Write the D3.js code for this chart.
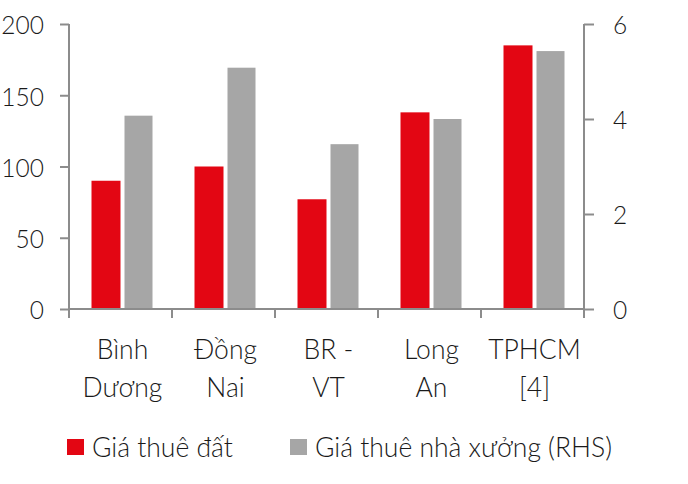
<!DOCTYPE html>
<html><head><meta charset="utf-8">
<script src="https://cdn.jsdelivr.net/npm/d3@7"></script>
<style>
body{margin:0;background:#fff;}
text{font-family:Lato,"Open Sans",sans-serif;font-weight:300;fill:#1a1a1a;}
</style></head>
<body><svg id="c" width="688" height="484"></svg>
<script>
const categories = [["Bình","Dương"],["Đồng","Nai"],["BR -","VT"],["Long","An"],["TPHCM","[4]"]];
const landRent = [90, 100, 77, 138, 185];
const factoryRent = [4.07, 5.08, 3.47, 4.0, 5.43];
const leftTicks = [0, 50, 100, 150, 200];
const rightTicks = [0, 2, 4, 6];
const seriesNames = ["Giá thuê đất", "Giá thuê nhà xưởng (RHS)"];
const colors = ["#e30613", "#a6a6a6"];

const svg = d3.select("#c");
const L = 69, R = 584, T = 24, B = 309;
const FS = 26.5, TFS = 24.5;
const idx = categories.map((d,i)=>i);
const x = d3.scaleBand().domain(idx).range([L, R]).paddingInner(0).paddingOuter(0);
const yL = d3.scaleLinear().domain([0,200]).range([B, T]);
const yR = d3.scaleLinear().domain([0,6]).range([B, T]);
const axisColor = "#8c8c8c";
const bw = 29, gap = 4;

// bars
const g = svg.append("g");
idx.forEach(i=>{
  const c = x(i) + x.bandwidth()/2 + 2;
  g.append("rect").attr("x", c - gap/2 - bw).attr("width", bw)
    .attr("y", yL(landRent[i])).attr("height", B - yL(landRent[i])).attr("fill", colors[0]);
  g.append("rect").attr("x", c + gap/2).attr("width", bw - 1)
    .attr("y", yR(factoryRent[i])).attr("height", B - yR(factoryRent[i])).attr("fill", colors[1]);
});

// left axis
const la = svg.append("g").attr("transform", `translate(${L},0)`)
  .call(d3.axisLeft(yL).tickValues(leftTicks).tickSize(9).tickPadding(16).tickFormat(d3.format("d")));
// right axis
const ra = svg.append("g").attr("transform", `translate(${R},0)`)
  .call(d3.axisRight(yR).tickValues(rightTicks).tickSize(10).tickPadding(19).tickFormat(d3.format("d")));
[la, ra].forEach(a=>{
  a.select(".domain").attr("stroke", axisColor).attr("stroke-width", 2).attr("d", `M0,${T}V${B}`);
  a.selectAll(".tick line").attr("stroke", axisColor).attr("stroke-width", 2);
  a.selectAll(".tick text").attr("font-size", TFS).attr("fill", "#1a1a1a").attr("y", 2)
    .style("font-family", "Lato, sans-serif").style("font-weight", 300);
});

// x axis
const xa = svg.append("g");
xa.append("line").attr("x1", L).attr("x2", R).attr("y1", B).attr("y2", B)
  .attr("stroke", axisColor).attr("stroke-width", 2);
const bounds = idx.map(i=>x(i)).concat([R]);
xa.selectAll("line.t").data(bounds).join("line").attr("class","t")
  .attr("x1", d=>d).attr("x2", d=>d).attr("y1", B).attr("y2", B+9)
  .attr("stroke", axisColor).attr("stroke-width", 2);

// category labels
idx.forEach(i=>{
  const t = svg.append("text").attr("text-anchor","middle").attr("font-size", FS)
    .attr("x", x(i) + x.bandwidth()/2 + 2);
  categories[i].forEach((line, k)=>{
    t.append("tspan").attr("x", x(i) + x.bandwidth()/2 + 2).attr("y", 359 + k*37.5).text(line);
  });
});

// legend
const leg = svg.append("g");
const legX = [67, 290];
seriesNames.forEach((n,i)=>{
  leg.append("rect").attr("x", legX[i]).attr("y", 439).attr("width", 17).attr("height", 16).attr("fill", colors[i]);
  leg.append("text").attr("x", legX[i] + 25).attr("y", 457).attr("font-size", FS).text(n);
});
</script></body></html>
